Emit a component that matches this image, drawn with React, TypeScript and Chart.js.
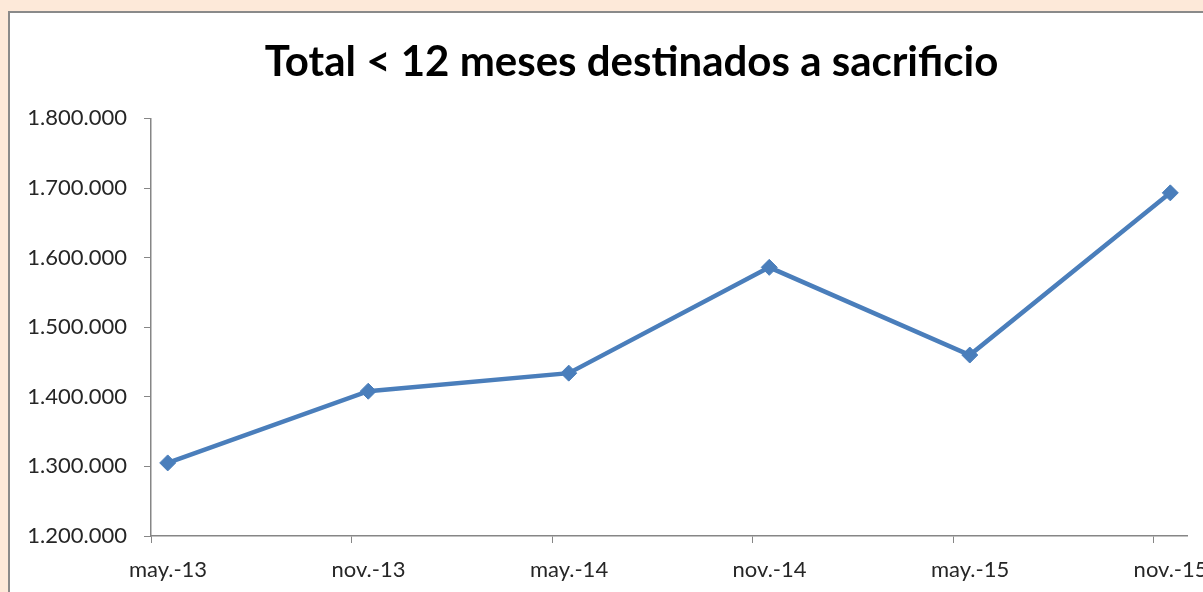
import React, { useEffect, useRef } from "react";
import { Chart, registerables } from "chart.js";

Chart.register(...registerables);

// ---- data ----
const TITLE = "Total < 12 meses destinados a sacrificio";
const DATES = ["2013-05-16", "2013-11-16", "2014-05-16", "2014-11-16", "2015-05-16", "2015-11-16"];
const VALUES = [1305000, 1408000, 1434000, 1586000, 1460000, 1693000];
const TICK_LABELS = ["may.-13", "nov.-13", "may.-14", "nov.-14", "may.-15", "nov.-15"];
const TICK_MONTHS = [0, 6, 12, 18, 24, 30];
const X_MAX_MONTH = 31;
const Y_MIN = 1200000;
const Y_MAX = 1800000;
const Y_STEP = 100000;

// months since 1 May 2013
function monthIndex(d: string): number {
  const [y, m, day] = d.split("-").map(Number);
  return (y - 2013) * 12 + (m - 5) + (day - 1) / 30;
}
function fmt(v: number): string {
  return String(Math.round(v)).replace(/\B(?=(\d{3})+(?!\d))/g, ".");
}

const BLUE = "#4A7EBB";
const AXIS = "#868686";
const TEXT = "#262626";
const FONT = "Lato, 'Open Sans', sans-serif";

export default function App() {
  const ref = useRef<HTMLCanvasElement | null>(null);

  useEffect(() => {
    if (!ref.current) return;
    const chart = new Chart(ref.current, {
      type: "line",
      data: {
        datasets: [
          {
            data: DATES.map((d, i) => ({ x: monthIndex(d), y: VALUES[i] })),
            borderColor: BLUE,
            backgroundColor: BLUE,
            borderWidth: 4.5,
            pointStyle: "rectRot",
            pointRadius: 8,
            pointBorderWidth: 1,
            pointBackgroundColor: BLUE,
            pointBorderColor: BLUE,
            tension: 0,
            clip: false as any,
          },
        ],
      },
      options: {
        animation: false,
        responsive: false,
        devicePixelRatio: 1,
        layout: { padding: { left: 0, right: 7, top: 0, bottom: 0 } },
        plugins: {
          legend: { display: false },
          tooltip: { enabled: false },
          title: {
            display: true,
            text: TITLE,
            color: "#000",
            font: { family: FONT, size: 42, weight: "bold" },
            padding: { top: 37, bottom: 31 },
          },
        },
        scales: {
          x: {
            type: "linear",
            min: 0,
            max: X_MAX_MONTH,
            afterBuildTicks: (scale: any) => {
              scale.ticks = TICK_MONTHS.map((v) => ({ value: v }));
            },
            afterFit: (scale: any) => {
              scale.height = 56;
            },
            ticks: {
              color: TEXT,
              font: { family: FONT, size: 22 },
              padding: 14,
              labelOffset: 17,
              maxRotation: 0,
              autoSkip: false,
              callback: (v: any) => {
                const i = TICK_MONTHS.indexOf(Number(v));
                return i >= 0 ? TICK_LABELS[i] : "";
              },
            },
            grid: {
              drawOnChartArea: false,
              drawTicks: true,
              tickLength: 7,
              color: AXIS,
            },
            border: { display: true, color: AXIS, width: 1.5 },
          },
          y: {
            min: Y_MIN,
            max: Y_MAX,
            afterFit: (scale: any) => {
              scale.width = 151;
            },
            ticks: {
              stepSize: Y_STEP,
              color: TEXT,
              font: { family: FONT, size: 22 },
              padding: 17,
              callback: (v: any) => fmt(Number(v)),
            },
            grid: {
              drawOnChartArea: false,
              drawTicks: true,
              tickLength: 7,
              color: AXIS,
            },
            border: { display: true, color: AXIS, width: 1.5 },
          },
          // empty right-hand space of the Excel plot frame
          yRight: {
            position: "right",
            min: Y_MIN,
            max: Y_MAX,
            afterFit: (scale: any) => {
              scale.width = 76;
            },
            ticks: { display: false },
            grid: { display: false },
            border: { display: false },
          },
        },
      },
    });
    return () => chart.destroy();
  }, []);

  return (
    <div
      style={{
        position: "fixed",
        left: 0,
        top: 0,
        width: 1203,
        height: 592,
        overflow: "hidden",
        background: "#FDE9D9",
      }}
    >
      <div
        style={{
          position: "absolute",
          left: 8,
          top: 11,
          width: 1300,
          height: 700,
          background: "#fff",
          borderLeft: "2px solid #8a8a8a",
          borderTop: "2px solid #8a8a8a",
        }}
      />
      <canvas
        ref={ref}
        width={1270}
        height={592}
        style={{ position: "absolute", left: 0, top: 0, width: 1270, height: 592 }}
      />
    </div>
  );
}
